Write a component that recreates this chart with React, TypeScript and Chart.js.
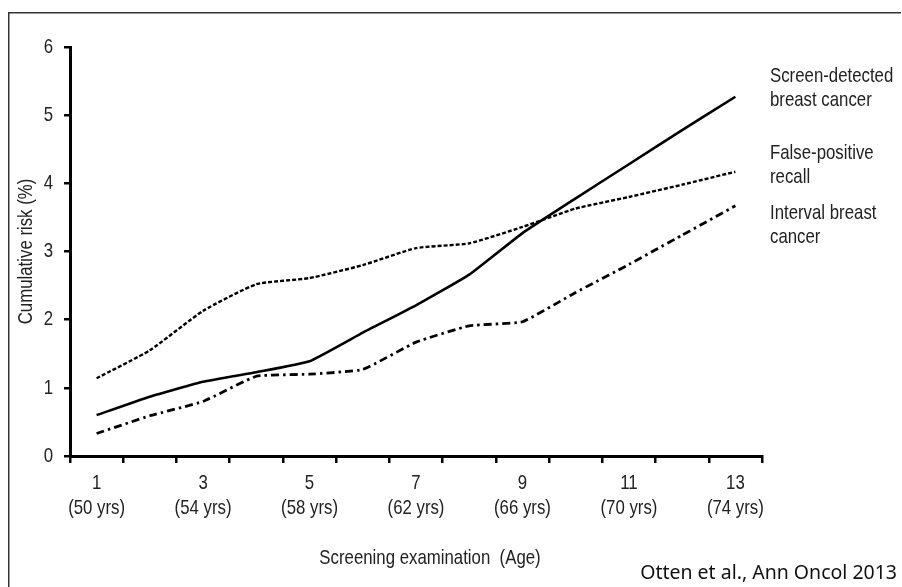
import { useEffect, useRef } from "react";
import { Chart, registerables } from "chart.js";

Chart.register(...registerables);

const examinations = ["1", "2", "3", "4", "5", "6", "7", "8", "9", "10", "11", "12", "13"];
const ageLabels = ["(50 yrs)", "", "(54 yrs)", "", "(58 yrs)", "", "(62 yrs)", "", "(66 yrs)", "", "(70 yrs)", "", "(74 yrs)"];
const screenDetected = [0.6, 0.87, 1.09, 1.23, 1.39, 1.81, 2.21, 2.66, 3.27, 3.78, 4.28, 4.78, 5.27];
const falsePositive = [1.14, 1.55, 2.13, 2.52, 2.61, 2.8, 3.05, 3.12, 3.36, 3.63, 3.8, 3.98, 4.17];
const intervalCancer = [0.33, 0.59, 0.8, 1.17, 1.2, 1.27, 1.67, 1.91, 1.97, 2.4, 2.81, 3.24, 3.67];
const seriesNames = [
  ["Screen-detected", "breast cancer"],
  ["False-positive", "recall"],
  ["Interval breast", "cancer"],
];
const yAxisTitle = "Cumulative risk (%)";
const xAxisTitle = "Screening examination  (Age)";
const sourceText = "Otten et al., Ann Oncol 2013";

const FONT = "'Liberation Sans', Arial, sans-serif";
const SQUEEZE = 0.8;
const TEXT_COLOR = "#222";

function narrowText(
  ctx: CanvasRenderingContext2D,
  text: string,
  x: number,
  y: number,
  align: CanvasTextAlign,
  rotate = 0
) {
  ctx.save();
  ctx.translate(x, y);
  if (rotate) ctx.rotate(rotate);
  ctx.scale(SQUEEZE, 1);
  ctx.textAlign = align;
  ctx.textBaseline = "middle";
  ctx.fillText(text, 0, 0);
  ctx.restore();
}

const annotations = {
  id: "annotations",
  afterDraw(chart: any) {
    const ctx = chart.ctx as CanvasRenderingContext2D;
    const xs = chart.scales.x;
    const ys = chart.scales.y;
    ctx.save();
    // frame
    ctx.strokeStyle = "#333";
    ctx.lineWidth = 1.5;
    ctx.beginPath();
    ctx.moveTo(0.75, chart.height);
    ctx.lineTo(0.75, 4.75);
    ctx.lineTo(chart.width - 1, 4.75);
    ctx.stroke();

    ctx.fillStyle = TEXT_COLOR;
    ctx.font = `21px ${FONT}`;

    // x tick labels (from the category scale)
    xs.ticks.forEach((t: any, i: number) => {
      const lbl = t.label;
      if (!lbl || (Array.isArray(lbl) && !lbl[0])) return;
      const lines = Array.isArray(lbl) ? lbl : [lbl];
      const px = xs.getPixelForTick(i);
      lines.forEach((ln: string, j: number) => narrowText(ctx, ln, px, 475 + j * 25, "center"));
    });

    // y tick labels (from the linear scale)
    ys.ticks.forEach((t: any, i: number) => {
      const py = ys.getPixelForTick(i);
      narrowText(ctx, String(t.label), 45, py, "right");
    });

    // y title
    narrowText(ctx, yAxisTitle, 18, (ys.top + ys.bottom) / 2, "center", -Math.PI / 2);

    // series labels
    const yPos = [68, 145, 205];
    seriesNames.forEach((lines, i) => {
      lines.forEach((t, j) => narrowText(ctx, t, 762, yPos[i] + j * 24, "left"));
    });

    // x title
    narrowText(ctx, xAxisTitle, 422, 550, "center");

    // source
    ctx.font = "19.5px 'Noto Sans', 'Open Sans', sans-serif";
    ctx.textAlign = "right";
    ctx.textBaseline = "middle";
    ctx.fillStyle = "#111";
    ctx.fillText(sourceText, 889, 565);
    ctx.restore();
  },
};

export default function App() {
  const ref = useRef<HTMLCanvasElement | null>(null);
  useEffect(() => {
    if (!ref.current) return;
    const chart = new Chart(ref.current, {
      type: "line",
      data: {
        labels: examinations,
        datasets: [
          {
            label: seriesNames[0].join(" "),
            data: screenDetected,
            borderColor: "#000",
            borderWidth: 2.6,
            pointRadius: 0,
            tension: 0.12,
          },
          {
            label: seriesNames[1].join(" "),
            data: falsePositive,
            borderColor: "#000",
            borderWidth: 2.4,
            borderDash: [4, 2],
            pointRadius: 0,
            tension: 0.15,
          },
          {
            label: seriesNames[2].join(" "),
            data: intervalCancer,
            borderColor: "#000",
            borderWidth: 2.8,
            borderDash: [8, 4, 2.5, 4],
            pointRadius: 0,
            tension: 0.12,
          },
        ],
      },
      options: {
        animation: false,
        responsive: false,
        maintainAspectRatio: false,
        layout: { padding: { left: 0, top: 39, right: 140, bottom: 0 } },
        plugins: { legend: { display: false }, tooltip: { enabled: false } },
        scales: {
          x: {
            type: "category",
            offset: true,
            grid: {
              offset: true,
              drawOnChartArea: false,
              drawTicks: true,
              tickLength: 7,
              color: "#000",
              lineWidth: 2.5,
            },
            border: { display: true, color: "#000", width: 3 },
            ticks: {
              display: false,
              autoSkip: false,
              maxRotation: 0,
              callback: (_v: any, i: number) => (i % 2 === 0 ? [examinations[i], ageLabels[i]] : ""),
            },
            afterFit: (s: any) => {
              s.height = 131;
            },
          },
          y: {
            min: 0,
            max: 6,
            grid: {
              drawOnChartArea: false,
              drawTicks: true,
              tickLength: 6,
              color: "#000",
              lineWidth: 2.5,
            },
            border: { display: true, color: "#000", width: 3 },
            ticks: { display: false, stepSize: 1 },
            afterFit: (s: any) => {
              s.width = 62;
            },
          },
        },
      },
      plugins: [annotations],
    });
    return () => chart.destroy();
  }, []);
  return (
    <div style={{ position: "fixed", left: 8, top: 8, width: 894, height: 579 }}>
      <canvas ref={ref} width={894} height={579} style={{ display: "block" }} />
    </div>
  );
}
